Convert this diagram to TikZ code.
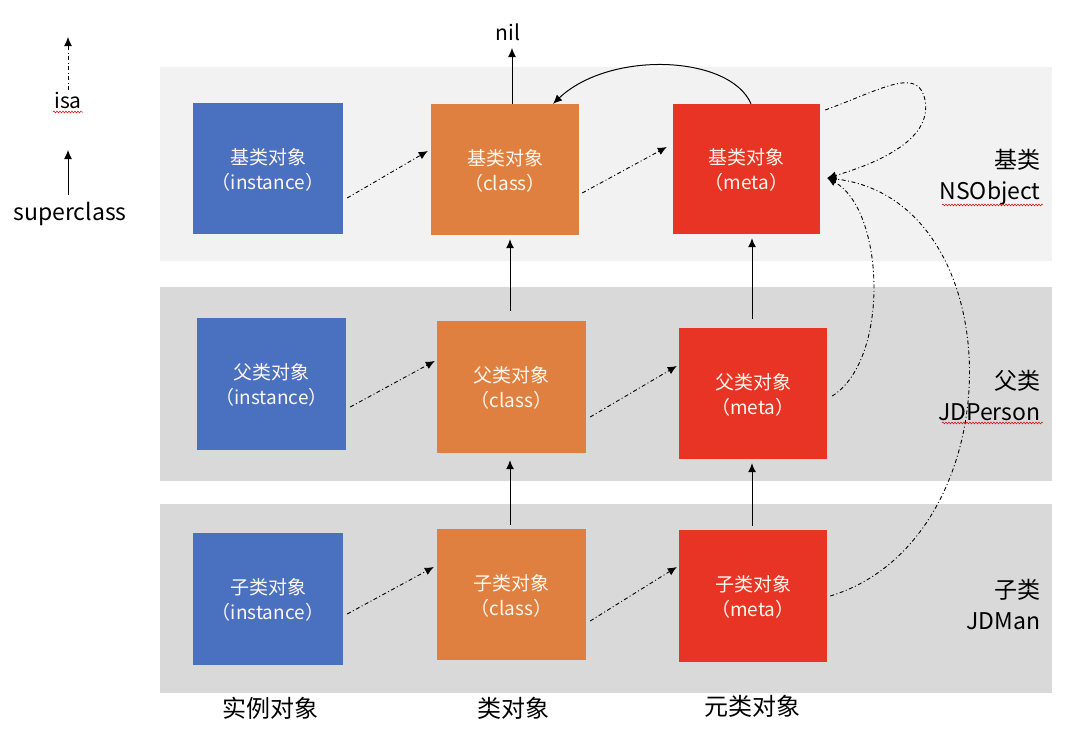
\documentclass[tikz,border=0pt]{standalone}
\usepackage{fontspec}
\setmainfont{Noto Sans CJK SC}
\usetikzlibrary{arrows.meta,calc,decorations.pathmorphing}
\definecolor{bandA}{HTML}{F2F2F2}
\definecolor{bandB}{HTML}{D9D9D9}
\definecolor{instblue}{HTML}{4A70C0}
\definecolor{clsorange}{HTML}{E08040}
\definecolor{metared}{HTML}{E83424}
\definecolor{boxtext}{HTML}{FFF6EE}
\tikzset{
  objbox/.style={draw=none, inner sep=0pt, align=center, text=boxtext,
    font=\fontsize{19}{25}\selectfont, text depth=0pt},
  inst/.style={objbox, fill=instblue},
  cls/.style={objbox, fill=clsorange},
  meta/.style={objbox, fill=metared},
  isaarrow/.style={line width=0.9pt, dash pattern=on 4pt off 2.5pt on 1pt off 2.5pt,
    -{Latex[length=9pt,width=8pt]}},
  superarrow/.style={line width=1pt, -{Latex[length=9pt,width=8pt]}},
  rowlabel/.style={align=right, anchor=east, font=\fontsize{23}{31}\selectfont},
  collabel/.style={font=\fontsize{24}{28}\selectfont},
  legendtext/.style={font=\fontsize{21}{24}\selectfont},
  spell/.style={draw=red!85!black, line width=0.5pt,
    decorate, decoration={snake, amplitude=0.9pt, segment length=3pt}}
}
\begin{document}
\begin{tikzpicture}[x=1pt,y=-1pt]
\useasboundingbox (0,0) rectangle (1080,731);
% bands
\fill[bandA] (160,67) rectangle (1052,261);
\fill[bandB] (160,287) rectangle (1052,481);
\fill[bandB] (160,504) rectangle (1052,693);

% boxes
\node[inst, minimum width=150pt, minimum height=131pt] (b1) at (268,168.5) {基类对象\\（instance）};
\node[cls,  minimum width=148pt, minimum height=131pt] (o1) at (505,169.5) {基类对象\\（class）};
\node[meta, minimum width=147pt, minimum height=130pt] (r1) at (746.5,169) {基类对象\\（meta）};

\node[inst, minimum width=149pt, minimum height=132pt] (b2) at (271.5,384) {父类对象\\（instance）};
\node[cls,  minimum width=149pt, minimum height=132pt] (o2) at (511.5,387) {父类对象\\（class）};
\node[meta, minimum width=148pt, minimum height=131pt] (r2) at (753,393.5) {父类对象\\（meta）};

\node[inst, minimum width=150pt, minimum height=132pt] (b3) at (268,598.5) {子类对象\\（instance）};
\node[cls,  minimum width=149pt, minimum height=131pt] (o3) at (511.5,594.5) {子类对象\\（class）};
\node[meta, minimum width=148pt, minimum height=132pt] (r3) at (753,596) {子类对象\\（meta）};

% isa arrows
\draw[isaarrow] ($(b1.east)+(4,29.5)$) -- ($(o1.west)+(-3,-18.5)$);
\draw[isaarrow] ($(o1.east)+(3,23.5)$) -- ($(r1.west)+(-6,-22)$);
\draw[isaarrow] ($(b2.east)+(4,23)$) -- ($(o2.west)+(-2,-26)$);
\draw[isaarrow] ($(o2.east)+(4,30)$) -- ($(r2.west)+(-2,-27.5)$);
\draw[isaarrow] ($(b3.east)+(4,15.5)$) -- ($(o3.west)+(-3,-27.5)$);
\draw[isaarrow] ($(o3.east)+(4,26.5)$) -- ($(r3.west)+(-2,-29)$);

% meta isa curves
\draw[isaarrow] ($(r1.east)+(5,-59)$) .. controls (880,90) and (915,68) .. (924,96)
   .. controls (932,122) and (915,152) .. ($(r1.east)+(7,9)$);
\draw[isaarrow] ($(r2.east)+(5,2.5)$) .. controls (890,360) and (885,210) .. ($(r1.east)+(7,9)$);
\draw[isaarrow] ($(r3.east)+(3,0)$) .. controls (1015,540) and (1015,200) .. ($(r1.east)+(7,9)$);

% superclass arrows
\node[legendtext] (nil) at (508,32) {nil};
\coordinate (niltip) at (512,48);
\draw[superarrow] ($(o1.north)+(7,0)$) -- (niltip);
\draw[superarrow] ($(o2.north)+(-1.5,-10)$) -- ($(o1.south)+(5,4)$);
\draw[superarrow] ($(o3.north)+(-1.5,-4)$) -- ($(o2.south)+(-1.5,7)$);
\draw[superarrow] ($(r2.north)+(-1,-9)$) -- ($(r1.south)+(5.5,4)$);
\draw[superarrow] ($(r3.north)+(-1,-4)$) -- ($(r2.south)+(-1,4)$);
\draw[superarrow] ($(r1.north)+(4.5,0)$) .. controls (730,55) and (610,50) .. ($(o1.north)+(48,0)$);

% row labels
\node[rowlabel] (l1) at (1044,177) {基类\\NSObject};
\node[rowlabel] (l2) at (1044,395) {父类\\JDPerson};
\node[rowlabel] (l3) at (1044,604) {子类\\JDMan};
\draw[spell] (942,205) -- (1043,205);
\draw[spell] (942,423) -- (1043,423);

% column labels
\node[collabel] (c1) at (270,708) {实例对象};
\node[collabel] (c2) at (513,708) {类对象};
\node[collabel] (c3) at (752,706) {元类对象};

% legend
\node[legendtext] (isa) at (68,100) {isa};
\coordinate (isatop) at (68,37);
\draw[isaarrow] ($(isa.north)+(0,2)$) -- (isatop);
\draw[spell] (53,112) -- (83,112);
\node[legendtext, font=\fontsize{23}{26}\selectfont] (sc) at (70,214) {superclass};
\coordinate (sctop) at (68,150);
\draw[superarrow] ($(sc.north)+(-2,-4)$) -- (sctop);
\end{tikzpicture}
\end{document}
